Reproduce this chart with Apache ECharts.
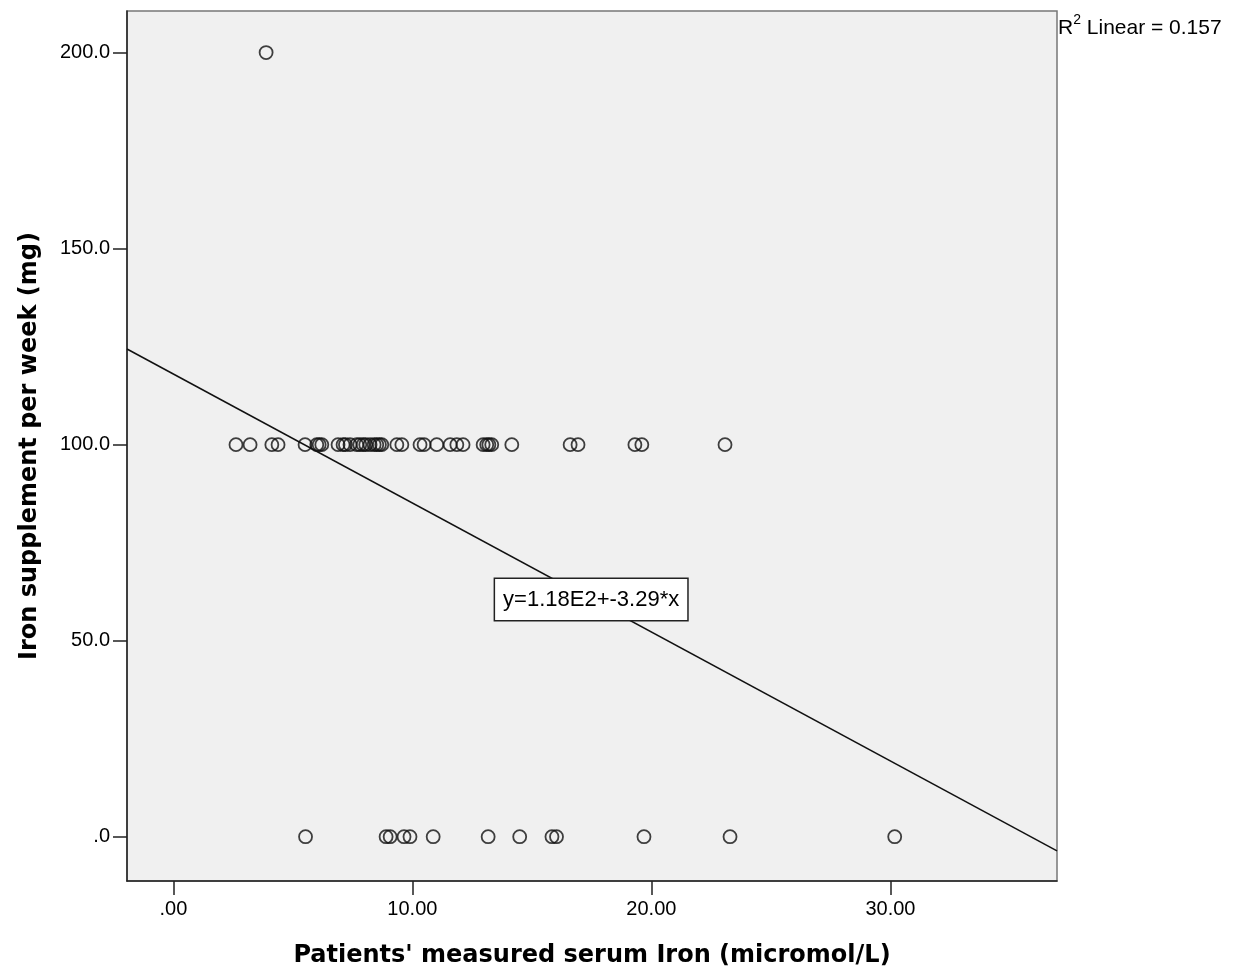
<!DOCTYPE html>
<html>
<head>
<meta charset="utf-8">
<script src="https://cdn.jsdelivr.net/npm/echarts@6/dist/echarts.min.js"></script>
<style>
    html, body { margin: 0; background: #fff; }
    #chart { width: 1239px; height: 974px; }
</style>
</head>
<body>
<div id="chart"></div>
<script>
    // serum iron (micromol/L) of patients, grouped by weekly supplement dose
    var iron0mg = [5.53, 8.90, 9.07, 9.65, 9.90, 10.87, 13.17, 14.49, 15.84, 16.03, 19.69, 23.29, 30.18];
    var iron100mg = [2.62, 3.21, 4.12, 4.38, 5.51, 6.00, 6.10, 6.21, 6.89, 7.10, 7.20, 7.39, 7.67, 7.80,
        7.94, 8.05, 8.23, 8.40, 8.51, 8.62, 8.72, 9.35, 9.56, 10.32, 10.49, 11.02, 11.58, 11.86, 12.12,
        12.96, 13.11, 13.20, 13.32, 14.16, 16.60, 16.93, 19.31, 19.60, 23.08];
    var iron200mg = [3.88];
    var doses = [0, 100, 200];

    // fit line as printed on the chart
    var fitIntercept = 118;
    var fitSlope = -3.29;
    var fitLabel = 'y=1.18E2+-3.29*x';
    var fitLabelX = 17.48;
    var r2Text = '0.157';

    var xTicks = [0, 10, 20, 30];
    var yTicks = [0, 50, 100, 150, 200];
    var xMin = -1.94, xMax = 36.97;
    var yMin = -11.3, yMax = 210.6;

    var points = [];
    [iron0mg, iron100mg, iron200mg].forEach(function (arr, i) {
        arr.forEach(function (x) { points.push([x, doses[i]]); });
    });
    function fit(x) { return fitIntercept + fitSlope * x; }

    var chart = echarts.init(document.getElementById('chart'));
    var option = {
        animation: false,
        backgroundColor: '#fff',
        title: {
            text: '{a|R}{s|2}{a| Linear = ' + r2Text + '}',
            left: 1058,
            top: 13,
            padding: 0,
            textStyle: {
                fontWeight: 'normal',
                rich: {
                    a: { fontFamily: 'Liberation Sans', fontWeight: 'normal', fontSize: 21, color: '#000', lineHeight: 26, verticalAlign: 'bottom' },
                    s: { fontFamily: 'Liberation Sans', fontWeight: 'normal', fontSize: 14, color: '#000', lineHeight: 26, verticalAlign: 'top' }
                }
            }
        },
        grid: {
            left: 127, right: 182, top: 11, bottom: 93,
            show: true,
            backgroundColor: '#f0f0f0',
            borderColor: '#777',
            borderWidth: 1.5
        },
        xAxis: {
            type: 'value',
            min: xMin,
            max: xMax,
            name: "Patients' measured serum Iron (micromol/L)",
            nameLocation: 'middle',
            nameGap: 63,
            nameTextStyle: { fontFamily: 'DejaVu Sans', fontWeight: 'bold', fontSize: 24, color: '#000' },
            splitLine: { show: false },
            axisLine: { show: true, onZero: false, lineStyle: { color: '#222', width: 1.5 } },
            axisTick: { show: true, length: 14, customValues: xTicks, lineStyle: { color: '#222', width: 1.5 } },
            axisLabel: {
                customValues: xTicks,
                margin: 18,
                fontFamily: 'Liberation Sans',
                fontSize: 20,
                color: '#000',
                formatter: function (v) { return v === 0 ? '.00' : v.toFixed(2); }
            }
        },
        yAxis: {
            type: 'value',
            min: yMin,
            max: yMax,
            name: 'Iron supplement per week (mg)',
            nameLocation: 'middle',
            nameGap: 85,
            nameTextStyle: { fontFamily: 'DejaVu Sans', fontWeight: 'bold', fontSize: 24, color: '#000' },
            splitLine: { show: false },
            axisLine: { show: true, onZero: false, lineStyle: { color: '#222', width: 1.5 } },
            axisTick: { show: true, length: 14, customValues: yTicks, lineStyle: { color: '#222', width: 1.5 } },
            axisLabel: {
                customValues: yTicks,
                margin: 17,
                fontFamily: 'Liberation Sans',
                fontSize: 20,
                color: '#000',
                formatter: function (v) { return v === 0 ? '.0' : v.toFixed(1); }
            }
        },
        series: [
            {
                type: 'line',
                data: [[xMin, fit(xMin)], [xMax, fit(xMax)]],
                showSymbol: false,
                symbol: 'none',
                lineStyle: { color: '#111', width: 1.5 },
                z: 2
            },
            {
                type: 'scatter',
                data: points,
                symbol: 'circle',
                symbolSize: 13,
                itemStyle: { color: 'rgba(0,0,0,0)', borderColor: '#111', borderWidth: 1.8 },
                z: 3
            },
            {
                type: 'scatter',
                data: [[fitLabelX, fit(fitLabelX)]],
                symbolSize: 1,
                itemStyle: { color: 'rgba(0,0,0,0)' },
                label: {
                    show: true,
                    position: 'inside',
                    formatter: fitLabel,
                    fontFamily: 'Liberation Sans',
                    fontSize: 22,
                    color: '#000',
                    opacity: 1,
                    backgroundColor: '#fff',
                    borderColor: '#222',
                    borderWidth: 1.5,
                    padding: [10, 8, 9, 8]
                },
                z: 5
            }
        ]
    };
    chart.setOption(option);
</script>
</body>
</html>
